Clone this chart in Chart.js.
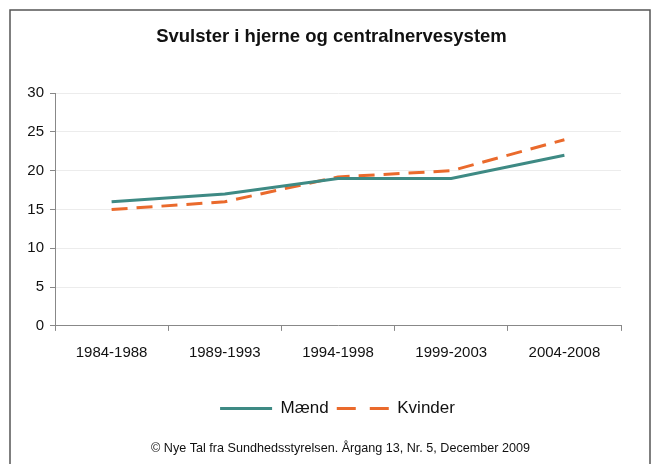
<!DOCTYPE html>
<html>
<head>
<meta charset="utf-8">
<script src="https://cdn.jsdelivr.net/npm/chart.js@4/dist/chart.umd.min.js"></script>
<style>
  html, body { margin: 0; padding: 0; background: #fff; }
  #wrap { width: 654px; height: 464px; position: relative; }
</style>
</head>
<body>
<div id="wrap"><canvas id="chart"></canvas></div>
<script>
const perioder = ['1984-1988', '1989-1993', '1994-1998', '1999-2003', '2004-2008'];
const maend = [16, 17, 19, 19, 22];
const kvinder = [15, 16, 19.2, 20, 24];
const yTicks = [0, 5, 10, 15, 20, 25, 30];

const FONT = "'Liberation Sans', Arial, Helvetica, sans-serif";
const TITEL = 'Svulster i hjerne og centralnervesystem';
const KILDE = '© Nye Tal fra Sundhedsstyrelsen. Årgang 13, Nr. 5, December 2009';

// ramme rundt om figuren + flyt titel/legend/kilde lidt til hoejre som i originalen
const rammePlugin = {
  id: 'ramme',
  afterLayout(chart) {
    const flyt = (box, dx) => { box.left += dx; box.right += dx; };
    if (chart.legend) flyt(chart.legend, 16);
    chart.boxes.forEach(b => {
      if (!b.options) return;
      if (b.options.text === TITEL) flyt(b, 10);
      if (b.options.text === KILDE) flyt(b, 19);
    });
  },
  beforeDraw(chart) {
    const ctx = chart.ctx;
    ctx.save();
    ctx.strokeStyle = '#555';
    ctx.lineWidth = 1.5;
    ctx.strokeRect(10, 10, 640, 480);
    ctx.restore();
  }
};

new Chart(document.getElementById('chart'), {
  type: 'line',
  data: {
    labels: perioder,
    datasets: [
      {
        label: 'Mænd',
        data: maend,
        borderColor: '#3e8a84',
        backgroundColor: '#3e8a84',
        borderWidth: 3,
        pointRadius: 0,
        tension: 0
      },
      {
        label: 'Kvinder',
        data: kvinder,
        borderColor: '#ea6a2c',
        backgroundColor: '#ea6a2c',
        borderWidth: 3,
        borderDash: [16, 9],
        pointRadius: 0,
        tension: 0
      }
    ]
  },
  options: {
    responsive: true,
    maintainAspectRatio: false,
    animation: false,
    layout: { padding: { left: 22, right: 33, top: 0, bottom: 8 } },
    plugins: {
      title: {
        display: true,
        text: TITEL,
        color: '#111',
        font: { family: FONT, size: 18.5, weight: 'bold' },
        padding: { top: 26, bottom: 45 }
      },
      subtitle: {
        display: true,
        position: 'bottom',
        text: KILDE,
        color: '#111',
        font: { family: FONT, size: 12.6 },
        padding: { top: 14, bottom: 0 }
      },
      legend: {
        position: 'bottom',
        labels: {
          usePointStyle: true,
          pointStyle: 'line',
          pointStyleWidth: 52,
          boxHeight: 17,
          color: '#111',
          font: { family: FONT, size: 17 },
          padding: 8,
          generateLabels(chart) {
            const items = Chart.defaults.plugins.legend.labels.generateLabels(chart);
            items.forEach(it => {
              const ds = chart.data.datasets[it.datasetIndex];
              it.lineWidth = 3;
              it.lineDash = ds.borderDash ? [19, 14] : [];
            });
            return items;
          }
        }
      },
      tooltip: { enabled: false }
    },
    scales: {
      x: {
        offset: true,
        afterFit(scale) { scale.height = 66; },
        grid: {
          offset: true,
          drawOnChartArea: false,
          drawTicks: true,
          tickLength: 5,
          tickColor: '#888'
        },
        border: { display: true, color: '#888', width: 1 },
        ticks: {
          color: '#111',
          font: { family: FONT, size: 15 },
          padding: 13,
          maxRotation: 0
        }
      },
      y: {
        min: 0,
        max: 30,
        afterBuildTicks(scale) {
          scale.ticks = yTicks.map(v => ({ value: v }));
        },
        afterFit(scale) { scale.width = 33; },
        grid: {
          color: '#ececec',
          tickColor: '#888',
          tickLength: 5
        },
        border: { display: true, color: '#888', width: 1 },
        ticks: {
          color: '#111',
          font: { family: FONT, size: 15 },
          padding: 6
        }
      }
    }
  },
  plugins: [rammePlugin]
});
</script>
</body>
</html>
